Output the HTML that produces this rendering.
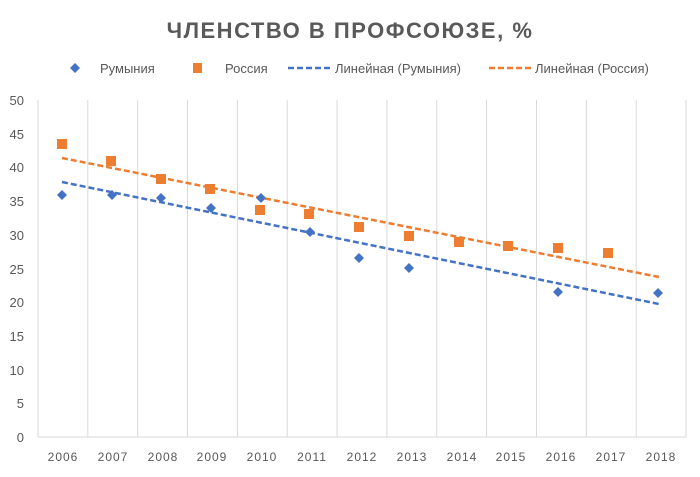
<!DOCTYPE html>
<html><head><meta charset="utf-8"><style>
body{margin:0;background:#fff;}
svg text{font-family:"Liberation Sans","DejaVu Sans",sans-serif;fill:#595959;}
</style></head><body>
<svg width="700" height="472" xmlns="http://www.w3.org/2000/svg">
<rect width="700" height="472" fill="#fff"/>
<text x="350" y="38" text-anchor="middle" font-size="22" font-weight="bold" letter-spacing="1.5">ЧЛЕНСТВО В ПРОФСОЮЗЕ, %</text>
<path d="M75 63 L80 68 L75 73 L70 68 Z" fill="#4472C4"/>
<text x="100" y="73" font-size="13">Румыния</text>
<rect x="193" y="63" width="9" height="10" fill="#ED7D31"/>
<text x="225" y="73" font-size="13">Россия</text>
<line x1="288" y1="68" x2="333" y2="68" stroke="#4472C4" stroke-width="2.5" stroke-dasharray="6,3"/>
<text x="335" y="73" font-size="13">Линейная (Румыния)</text>
<line x1="489" y1="68" x2="533" y2="68" stroke="#ED7D31" stroke-width="2.5" stroke-dasharray="6,3"/>
<text x="535" y="73" font-size="13">Линейная (Россия)</text>
<g stroke="#d9d9d9" stroke-width="1">
<line x1="38" y1="100" x2="38" y2="437"/><line x1="87.8" y1="100" x2="87.8" y2="437"/><line x1="137.7" y1="100" x2="137.7" y2="437"/><line x1="187.5" y1="100" x2="187.5" y2="437"/><line x1="237.4" y1="100" x2="237.4" y2="437"/><line x1="287.2" y1="100" x2="287.2" y2="437"/><line x1="337.1" y1="100" x2="337.1" y2="437"/><line x1="386.9" y1="100" x2="386.9" y2="437"/><line x1="436.8" y1="100" x2="436.8" y2="437"/><line x1="486.6" y1="100" x2="486.6" y2="437"/><line x1="536.5" y1="100" x2="536.5" y2="437"/><line x1="586.3" y1="100" x2="586.3" y2="437"/><line x1="636.2" y1="100" x2="636.2" y2="437"/><line x1="686" y1="100" x2="686" y2="437"/>
<line x1="38" y1="437" x2="686" y2="437"/>
</g>
<g font-size="13" text-anchor="end">
<text x="24" y="442">0</text><text x="24" y="408">5</text><text x="24" y="375">10</text><text x="24" y="341">15</text><text x="24" y="307">20</text><text x="24" y="274">25</text><text x="24" y="240">30</text><text x="24" y="206">35</text><text x="24" y="172">40</text><text x="24" y="139">45</text><text x="24" y="105">50</text>
</g>
<g font-size="12" text-anchor="middle" letter-spacing="1">
<text x="63" y="461">2006</text><text x="113" y="461">2007</text><text x="163" y="461">2008</text><text x="212" y="461">2009</text><text x="262" y="461">2010</text><text x="312" y="461">2011</text><text x="362" y="461">2012</text><text x="412" y="461">2013</text><text x="462" y="461">2014</text><text x="511" y="461">2015</text><text x="561" y="461">2016</text><text x="611" y="461">2017</text><text x="661" y="461">2018</text>
</g>
<line x1="62" y1="182" x2="659" y2="304" stroke="#4472C4" stroke-width="2.5" stroke-dasharray="6,3"/>
<line x1="62" y1="158" x2="659" y2="277" stroke="#ED7D31" stroke-width="2.5" stroke-dasharray="6,3"/>
<g fill="#ED7D31">
<rect x="57" y="139" width="10" height="10"/><rect x="106" y="156" width="10" height="10"/><rect x="156" y="174" width="10" height="10"/><rect x="205" y="184" width="10" height="10"/><rect x="255" y="205" width="10" height="10"/><rect x="304" y="209" width="10" height="10"/><rect x="354" y="222" width="10" height="10"/><rect x="404" y="231" width="10" height="10"/><rect x="454" y="237" width="10" height="10"/><rect x="503" y="241" width="10" height="10"/><rect x="553" y="243" width="10" height="10"/><rect x="603" y="248" width="10" height="10"/>
</g>
<g fill="#4472C4">
<path d="M62 190l5 5-5 5-5-5z"/><path d="M112 190l5 5-5 5-5-5z"/><path d="M161 193l5 5-5 5-5-5z"/><path d="M211 203l5 5-5 5-5-5z"/><path d="M261 193l5 5-5 5-5-5z"/><path d="M310 227l5 5-5 5-5-5z"/><path d="M359 253l5 5-5 5-5-5z"/><path d="M409 263l5 5-5 5-5-5z"/><path d="M558 287l5 5-5 5-5-5z"/><path d="M658 288l5 5-5 5-5-5z"/>
</g>
</svg>
</body></html>
